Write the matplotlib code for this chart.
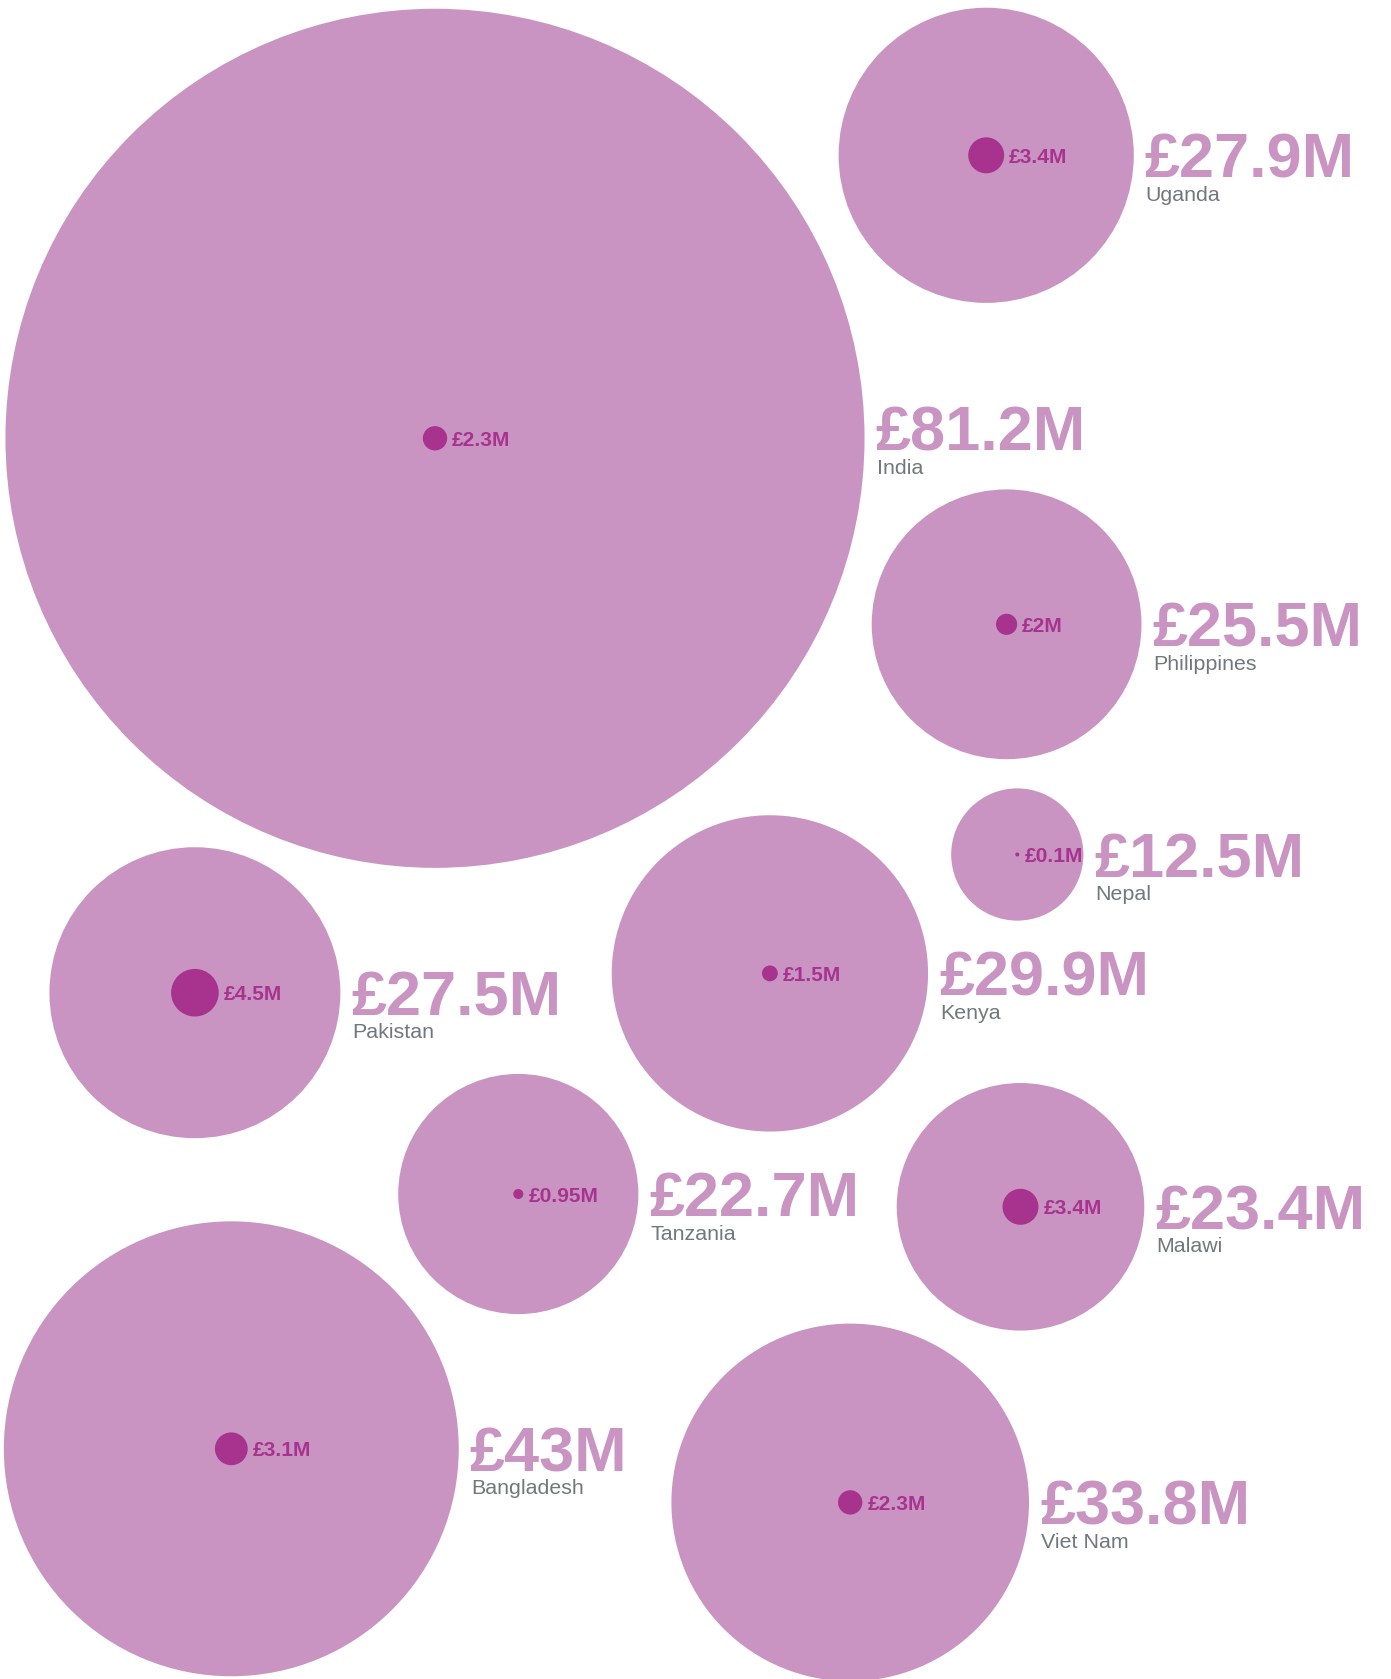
import matplotlib
matplotlib.use("Agg")
import matplotlib.pyplot as plt
from matplotlib.patches import Circle

# ---- data ----
countries = ["India", "Uganda", "Philippines", "Nepal", "Kenya", "Pakistan",
             "Tanzania", "Malawi", "Bangladesh", "Viet Nam"]
total_values = [81.2, 27.9, 25.5, 12.5, 29.9, 27.5, 22.7, 23.4, 43.0, 33.8]
total_labels = ["£81.2M", "£27.9M", "£25.5M", "£12.5M", "£29.9M", "£27.5M",
                "£22.7M", "£23.4M", "£43M", "£33.8M"]
inner_values = [2.3, 3.4, 2.0, 0.1, 1.5, 4.5, 0.95, 3.4, 3.1, 2.3]
inner_labels = ["£2.3M", "£3.4M", "£2M", "£0.1M", "£1.5M", "£4.5M",
                "£0.95M", "£3.4M", "£3.1M", "£2.3M"]

# ---- layout (packing positions, in figure pixels) ----
cx = [435.0, 986.2, 1006.6, 1017.3, 769.9, 194.9, 518.3, 1020.5, 231.3, 850.2]
cy = [438.3, 155.3, 624.3, 854.5, 973.4, 992.7, 1194.0, 1206.8, 1448.8, 1502.4]
label_dy = [-10, 0, 0, 0, 0, 0, 0, 0, 0, 0]

W, H = 1391, 1679
K = 5.29          # pixels of radius per £M
MIN_R = 2.0

OUTER = "#C994C2"
INNER = "#A8338F"
GREY = "#72777C"
FONT = "Liberation Sans"

fig = plt.figure(figsize=(W / 100, H / 100), dpi=100)
ax = fig.add_axes([0, 0, 1, 1])
ax.set_xlim(0, W)
ax.set_ylim(H, 0)
ax.set_aspect("equal")
ax.axis("off")

for i, name in enumerate(countries):
    R = total_values[i] * K
    r = max(inner_values[i] * K, MIN_R)
    ax.add_patch(Circle((cx[i], cy[i]), R, facecolor=OUTER, edgecolor="none", zorder=1))
    ax.add_patch(Circle((cx[i], cy[i]), r, facecolor=INNER, edgecolor="none", zorder=2))
    ax.text(cx[i] + r + 5, cy[i] + 7.5, inner_labels[i], fontsize=15.1,
            fontweight="bold", family=FONT, color=INNER, ha="left", va="baseline", zorder=3)
    tx = cx[i] + R + 11
    ax.text(tx, cy[i] + 22.5 + label_dy[i], total_labels[i], fontsize=45.4,
            fontweight="bold", family=FONT, color=OUTER, ha="left", va="baseline", zorder=3)
    ax.text(tx + 1, cy[i] + 45.5 + label_dy[i], name, fontsize=15.4,
            family=FONT, color=GREY, ha="left", va="baseline", zorder=3)

fig.savefig("out.png", dpi=100, facecolor="white")
